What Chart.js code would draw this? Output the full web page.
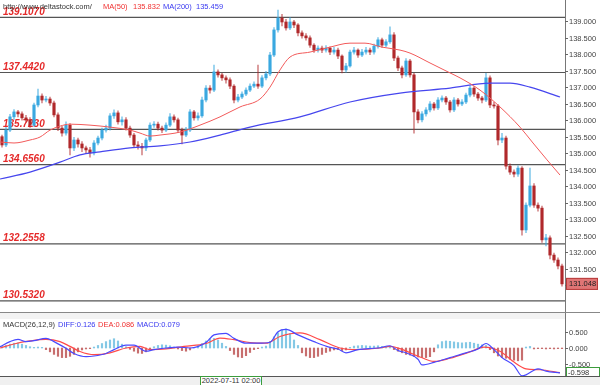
<!DOCTYPE html>
<html>
<head>
<meta charset="utf-8">
<script src="https://cdn.jsdelivr.net/npm/chart.js@4.4.0/dist/chart.umd.min.js"></script>
<style>
  body { margin: 0; background: #fff; font-family: "Liberation Sans", Arial, sans-serif; }
  #wrap { position: relative; width: 600px; height: 385px; overflow: hidden; }
  #main { position: absolute; left: 0; top: 0; }
  #macd { position: absolute; left: 0; top: 313px; }
  .t { position: absolute; font-size: 7.5px; line-height: 9px; white-space: nowrap; }
  #sep1 { position: absolute; left: 0; top: 312px; width: 600px; height: 1px; background: #888; }
  #band { position: absolute; left: 0; top: 313px; width: 565px; height: 6px; background: #f3f3f3; }
  #timebar { position: absolute; left: 0; top: 376px; width: 600px; height: 9px; background: #f0f0f0; border-top: 1px solid #555; }
  #timebox { position: absolute; left: 200px; top: 376px; width: 60px; height: 8px; border: 1px solid #3c9c3c; background: #fff;
             font-size: 7.5px; line-height: 8px; text-align: center; color: #333; white-space: nowrap; overflow: hidden; }
</style>
</head>
<body>
<div id="wrap">
  <div id="band"></div>
  <canvas id="main" width="600" height="312"></canvas>
  <div id="sep1"></div>
  <canvas id="macd" width="600" height="63"></canvas>
  <div id="timebar"></div>
  <div id="timebox">2022-07-11 02:00</div>

  <div class="t" style="left:3px;top:2px;color:#333">http://www.deltastock.com/</div>
  <div class="t" style="left:103px;top:2px;color:#f03030">MA(50)</div>
  <div class="t" style="left:133px;top:2px;color:#f03030">135.832</div>
  <div class="t" style="left:163px;top:2px;color:#3838f0">MA(200)</div>
  <div class="t" style="left:196px;top:2px;color:#3838f0">135.459</div>

  <div class="t" style="left:3px;top:320px;color:#333">MACD(26,12,9)</div>
  <div class="t" style="left:58px;top:320px;color:#3838f0">DIFF:0.126</div>
  <div class="t" style="left:98px;top:320px;color:#f03030">DEA:0.086</div>
  <div class="t" style="left:137px;top:320px;color:#3838f0">MACD:0.079</div>
</div>

<script>
// candles, one every bar index (open = previous close)
const firstOpen = 135.50;
const closes = [
  135.25,135.70,136.10,136.25,136.19,136.07,136.01,135.85,136.46,136.73,
  136.61,136.64,136.52,136.16,135.76,135.61,135.85,135.16,135.40,135.28,
  135.16,135.10,135.01,135.31,135.46,135.70,135.76,136.13,136.22,135.95,
  136.01,135.76,135.55,135.25,135.21,135.16,135.40,135.85,135.88,135.76,
  135.70,135.85,136.10,136.01,135.70,135.55,135.70,136.25,136.07,136.13,
  136.61,136.97,136.91,137.46,137.37,137.28,137.22,137.03,136.61,136.70,
  136.79,136.91,137.03,137.09,137.03,137.28,137.40,137.97,138.73,139.09,
  138.97,138.79,138.97,138.88,138.64,138.55,138.49,138.27,138.12,138.18,
  138.12,138.18,138.06,138.12,137.94,137.52,137.64,138.06,138.12,137.97,
  138.06,138.12,138.06,138.24,138.43,138.27,138.37,138.58,137.88,137.58,
  137.37,137.79,137.37,136.25,136.01,136.19,136.31,136.49,136.37,136.61,
  136.67,136.55,136.31,136.61,136.49,136.55,136.76,136.97,136.79,136.67,
  136.61,137.28,136.46,136.43,135.40,135.46,134.61,134.43,134.37,134.55,
  132.68,133.43,134.01,133.43,133.34,132.38,132.44,131.92,131.77,131.59,
  131.048
];
const highs = [
  135.55,135.78,136.18,136.32,136.30,136.25,136.15,136.08,136.52,136.94,
  136.80,136.72,136.70,136.58,136.22,135.82,135.95,135.90,135.48,135.46,
  135.35,135.22,135.18,135.38,135.52,135.76,135.85,136.20,136.31,136.28,
  136.10,136.08,135.82,135.60,135.35,135.30,135.46,135.92,135.96,135.94,
  135.82,135.92,136.20,136.16,136.06,135.76,135.78,136.32,136.30,136.22,
  136.70,137.05,137.05,137.67,137.52,137.42,137.34,137.28,137.08,136.78,
  136.86,136.98,137.10,137.16,137.67,137.35,137.48,138.05,138.80,139.33,
  139.20,139.05,139.10,139.02,138.92,138.70,138.62,138.55,138.32,138.25,
  138.24,138.26,138.22,138.20,138.18,137.98,137.72,138.12,138.20,138.16,
  138.14,138.20,138.18,138.30,138.50,138.48,138.44,138.82,138.65,137.94,
  137.64,137.86,137.84,137.42,136.32,136.26,136.38,136.56,136.54,136.68,
  136.74,136.72,136.60,136.68,136.66,136.62,136.82,137.04,137.02,136.84,
  136.72,137.42,137.34,136.54,136.48,135.60,135.52,134.68,134.50,134.62,
  134.60,133.50,134.55,134.08,133.50,133.40,132.55,132.50,131.98,131.84,
  131.65
];
const lows = [
  135.18,135.20,135.65,136.02,136.10,136.00,135.95,135.78,135.80,136.40,
  136.52,136.55,136.45,136.10,135.68,135.52,135.55,134.95,135.08,135.18,
  135.05,135.00,134.88,134.95,135.25,135.40,135.64,135.70,136.05,135.88,
  135.85,135.70,135.48,135.18,135.12,134.95,135.08,135.35,135.78,135.70,
  135.62,135.65,135.80,135.94,135.62,135.28,135.50,135.65,136.00,136.00,
  136.08,136.55,136.82,136.86,137.30,137.20,137.12,136.95,136.52,136.55,
  136.65,136.74,136.86,136.98,136.96,136.98,137.22,137.35,137.92,138.66,
  138.85,138.72,138.74,138.80,138.55,138.48,138.42,138.20,138.05,138.06,
  138.04,138.06,137.98,138.00,137.86,137.43,137.45,137.60,138.00,137.90,
  137.92,138.00,137.98,138.00,138.18,138.20,138.22,138.32,137.80,137.50,
  137.28,137.32,137.30,135.61,135.92,135.95,136.12,136.25,136.30,136.32,
  136.55,136.48,136.24,136.26,136.42,136.44,136.50,136.70,136.72,136.60,
  136.52,136.56,136.38,136.36,135.25,135.32,134.52,134.36,134.28,134.30,
  132.52,132.60,133.38,133.36,133.25,132.30,132.20,131.80,131.70,131.50,
  130.98
];

// moving averages (bar index, price)
const ma50Idx = [-0.5,3,7,9.5,12,14.5,17,22,27,32,34.5,37,39.5,44.5,49.5,54.5,59.5,64.5,67,69.5,72,77,82,87,90.75,95,99.5,102,107,112,114.5,119.5,124.5,129.5,132.75,136.25,139.5];
const ma50Val = [135.34,135.31,135.40,135.49,135.70,135.82,135.88,135.85,135.79,135.70,135.61,135.52,135.55,135.64,135.85,136.10,136.40,136.64,137.00,137.52,137.91,138.06,138.21,138.33,138.33,138.21,138.12,138.03,137.73,137.43,137.28,136.91,136.40,135.79,135.31,134.80,134.34];
const ma200Idx = [-0.5,7,14.5,19.5,24.5,32,39.5,47,54.5,62,74.5,87,99.5,112,122,127,132,139.5];
const ma200Val = [134.22,134.43,134.73,134.95,135.04,135.16,135.22,135.34,135.55,135.79,136.10,136.55,136.82,136.97,137.12,137.12,137.00,136.70];

// horizontal levels
const levels = [139.107, 137.442, 135.723, 134.656, 132.2558, 130.532];
const levelLabels = ['139.1070', '137.4420', '135.7230', '134.6560', '132.2558', '130.5320'];

// MACD panel
const histVals = [
  0.05,0.08,0.12,0.15,0.16,0.12,0.08,0.04,0.02,0.03,
  0.02,-0.05,-0.12,-0.20,-0.26,-0.30,-0.30,-0.26,-0.20,-0.12,
  -0.06,-0.03,-0.02,0.03,0.08,0.14,0.20,0.25,0.29,0.22,
  0.12,0.04,-0.04,-0.10,-0.16,-0.17,-0.12,-0.04,0.04,0.08,
  0.10,0.09,0.07,0.03,-0.03,-0.08,-0.10,-0.06,0.02,0.08,
  0.14,0.22,0.29,0.30,0.25,0.15,0.05,-0.08,-0.20,-0.28,
  -0.30,-0.24,-0.14,-0.05,-0.02,0.03,0.06,0.20,0.35,0.48,
  0.56,0.60,0.45,0.25,0.08,-0.15,-0.25,-0.30,-0.30,-0.26,
  -0.20,-0.14,-0.10,-0.06,-0.05,-0.08,-0.06,0.02,0.06,0.07,
  0.08,0.07,0.06,0.06,0.07,0.05,0.04,0.03,-0.05,-0.10,
  -0.15,-0.20,-0.22,-0.26,-0.28,-0.30,-0.30,-0.27,-0.12,0.10,
  0.20,0.22,0.21,0.19,0.17,0.16,0.17,0.18,0.15,0.12,
  0.10,0.08,-0.05,-0.15,-0.25,-0.30,-0.32,-0.35,-0.38,-0.40,
  -0.38,0.03,0.05,-0.03,-0.02,-0.02,-0.03,-0.02,-0.03,-0.02,
  -0.02
];
const diffIdx = [-0.5,2,4,6,8,11,13,16,18,21,23,26,28,31,33,36,38,41,44,47,51,53,56,58,61,64,67,69,71,74,78,82,84,86,89,94,97,99,101,104,105,108,112,116,119,121,123,125,128,130,131,134,136,139.5];
const diffVal = [0.04,0.20,0.27,0.20,0.23,0.30,0.20,-0.01,-0.17,-0.27,-0.25,-0.17,-0.05,0.09,0.09,-0.10,-0.05,0.0,0.03,0.0,0.17,0.41,0.46,0.30,0.15,0.15,0.18,0.51,0.58,0.41,0.20,0.02,-0.03,-0.15,-0.05,0.0,0.07,-0.08,-0.15,-0.35,-0.53,-0.45,-0.30,-0.15,-0.03,0.14,-0.05,-0.30,-0.55,-0.87,-0.84,-0.65,-0.72,-0.78];
const deaIdx = [-0.5,3,7,11,14.5,17,19.5,23,27,31,34.5,37,41,45.5,51,54.5,58,62,66,69.5,74.5,79.5,84.5,88,94.5,97,99.5,104.5,108,112,117,120.5,124.5,128,131,134.5,139.5];
const deaVal = [0.0,0.125,0.22,0.27,0.20,0.05,-0.11,-0.21,-0.15,0.0,0.05,-0.05,-0.03,0.05,0.14,0.31,0.26,0.17,0.15,0.36,0.47,0.26,0.0,-0.05,0.0,0.05,-0.02,-0.28,-0.42,-0.32,-0.12,0.03,-0.10,-0.44,-0.65,-0.68,-0.77];
const macdLast = '-0.598';

const UP = '#3aa8e0', DOWN = '#b0282b';
const UP_W = 'rgba(58,168,224,0.6)', DOWN_W = 'rgba(176,40,43,0.55)';

const opens = closes.map((c, i) => i === 0 ? firstOpen : closes[i - 1]);
const isUp = closes.map((c, i) => c >= opens[i]);
const pts = (xs, ys) => xs.map((x, i) => ({ x: x, y: ys[i] }));

// right-hand tick labels drawn from the scale's own ticks
function axisLabels(keep) {
  return {
    id: 'axisLabels',
    afterDraw(chart) {
      const { ctx, chartArea } = chart;
      const ys = chart.scales.y;
      ctx.save();
      ctx.font = '7.5px "Liberation Sans", Arial, sans-serif';
      ctx.fillStyle = '#444';
      ctx.strokeStyle = '#666';
      ctx.lineWidth = 1;
      ctx.textBaseline = 'middle';
      ys.ticks.forEach(t => {
        const v = t.value;
        if (Math.abs(v * 2 - Math.round(v * 2)) > 1e-6 || !keep(v)) return;
        const py = Math.round(ys.getPixelForValue(v)) + 0.5;
        ctx.beginPath();
        ctx.moveTo(chartArea.right, py);
        ctx.lineTo(chartArea.right + 3, py);
        ctx.stroke();
        ctx.fillText(v.toFixed(3), chartArea.right + 4, py);
      });
      ctx.restore();
    }
  };
}

const levelText = {
  id: 'levelText',
  beforeDatasetsDraw(chart) {
    const { ctx } = chart;
    const ys = chart.scales.y;
    ctx.save();
    ctx.font = 'italic bold 10px "Liberation Sans", Arial, sans-serif';
    ctx.fillStyle = '#e52a2a';
    ctx.textBaseline = 'alphabetic';
    levels.forEach((v, i) => {
      ctx.fillText(levelLabels[i], 3, ys.getPixelForValue(v) - 2.5);
    });
    ctx.restore();
  }
};

const lastPrice = {
  id: 'lastPrice',
  afterDraw(chart) {
    const { ctx, chartArea } = chart;
    const v = closes[closes.length - 1];
    const py = chart.scales.y.getPixelForValue(v);
    ctx.save();
    ctx.fillStyle = '#e07575';
    ctx.strokeStyle = '#b83a3a';
    ctx.fillRect(chartArea.right + 1, py - 6, 32, 12);
    ctx.strokeRect(chartArea.right + 1.5, py - 5.5, 31, 11);
    ctx.fillStyle = '#222';
    ctx.font = '7.5px "Liberation Sans", Arial, sans-serif';
    ctx.textBaseline = 'middle';
    ctx.fillText(v.toFixed(3), chartArea.right + 4, py);
    ctx.restore();
  }
};

const levelSets = levels.map(v => ({
  type: 'line',
  data: [{ x: -0.5, y: v }, { x: 140.75, y: v }],
  borderColor: '#555',
  borderWidth: 1.2,
  pointRadius: 0,
  order: 6
}));

new Chart(document.getElementById('main'), {
  type: 'bar',
  data: {
    datasets: [
      ...levelSets,
      {
        data: closes.map((c, i) => ({ x: i, y: [lows[i], highs[i]] })),
        backgroundColor: isUp.map(u => u ? UP_W : DOWN_W),
        barThickness: 1,
        order: 5
      },
      {
        data: closes.map((c, i) => ({ x: i, y: [opens[i], c] })),
        backgroundColor: isUp.map(u => u ? UP : DOWN),
        barThickness: 2.5,
        minBarLength: 1,
        order: 4
      },
      {
        type: 'line',
        data: pts(ma200Idx, ma200Val),
        borderColor: '#4646ee',
        borderWidth: 1.2,
        pointRadius: 0,
        cubicInterpolationMode: 'monotone',
        order: 2
      },
      {
        type: 'line',
        data: pts(ma50Idx, ma50Val),
        borderColor: '#f25a5a',
        borderWidth: 1,
        pointRadius: 0,
        cubicInterpolationMode: 'monotone',
        order: 1
      }
    ]
  },
  options: {
    responsive: false,
    animation: false,
    layout: { padding: 0 },
    plugins: { legend: { display: false }, tooltip: { enabled: false } },
    datasets: { bar: { grouped: false, borderWidth: 0 } },
    scales: {
      x: { type: 'linear', display: false, min: -0.5, max: 140.75, offset: false },
      y: {
        position: 'right',
        min: 130.198,
        max: 139.635,
        ticks: { display: false, stepSize: 0.5 },
        grid: { display: false, drawTicks: false },
        border: { display: true, color: '#777' },
        afterFit(s) { s.width = 35; }
      }
    }
  },
  plugins: [levelText, axisLabels(v => true), lastPrice]
});

const macdBox = {
  id: 'macdBox',
  afterDraw(chart) {
    const { ctx, chartArea } = chart;
    const py = chartArea.bottom - 4;
    ctx.save();
    ctx.fillStyle = '#fff';
    ctx.fillRect(chartArea.right + 1, py - 5, 34, 10);
    ctx.strokeStyle = '#3c9c3c';
    ctx.strokeRect(chartArea.right + 1.5, py - 4.5, 33, 9);
    ctx.fillStyle = '#333';
    ctx.font = '7.5px "Liberation Sans", Arial, sans-serif';
    ctx.textBaseline = 'middle';
    ctx.fillText(macdLast, chartArea.right + 3, py + 0.5);
    ctx.restore();
  }
};

new Chart(document.getElementById('macd'), {
  type: 'bar',
  data: {
    datasets: [
      {
        data: histVals.map((v, i) => ({ x: i, y: v })),
        backgroundColor: histVals.map(v => v >= 0 ? 'rgba(110,190,225,0.85)' : 'rgba(180,62,62,0.75)'),
        barThickness: 1.5,
        order: 3
      },
      {
        type: 'line',
        data: pts(deaIdx, deaVal),
        borderColor: '#ff4a4a',
        borderWidth: 1.2,
        pointRadius: 0,
        cubicInterpolationMode: 'monotone',
        order: 2
      },
      {
        type: 'line',
        data: pts(diffIdx, diffVal),
        borderColor: '#4a4aff',
        borderWidth: 1.2,
        pointRadius: 0,
        cubicInterpolationMode: 'monotone',
        order: 1
      }
    ]
  },
  options: {
    responsive: false,
    animation: false,
    layout: { padding: 0 },
    plugins: { legend: { display: false }, tooltip: { enabled: false } },
    datasets: { bar: { grouped: false, borderWidth: 0 } },
    scales: {
      x: { type: 'linear', display: false, min: -0.5, max: 140.75, offset: false },
      y: {
        position: 'right',
        min: -0.875,
        max: 1.094,
        ticks: { display: false, stepSize: 0.5 },
        grid: { display: false, drawTicks: false },
        border: { display: true, color: '#777' },
        afterFit(s) { s.width = 35; }
      }
    }
  },
  plugins: [axisLabels(v => v <= 0.5 && v >= -0.5), macdBox]
});
</script>
</body>
</html>
